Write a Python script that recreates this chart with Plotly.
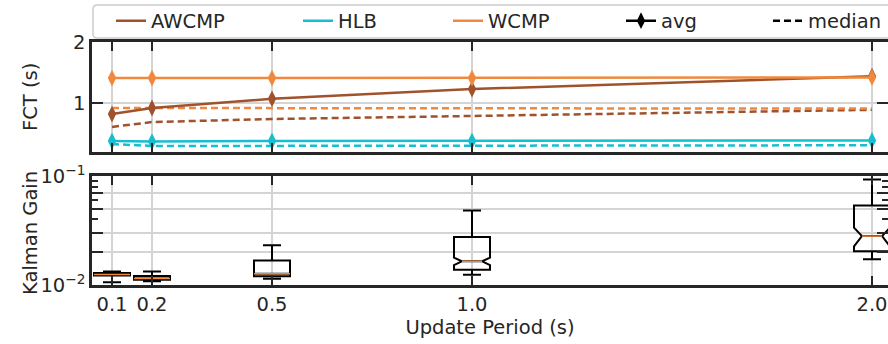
import plotly.graph_objects as go

# update period (s)
periods = [0.1, 0.2, 0.5, 1.0, 2.0]
period_labels = ["0.1", "0.2", "0.5", "1.0", "2.0"]

# FCT (s)
awcmp_avg = [0.82, 0.92, 1.07, 1.23, 1.44]
awcmp_median = [0.61, 0.69, 0.74, 0.79, 0.89]
hlb_avg = [0.38, 0.37, 0.38, 0.38, 0.39]
hlb_median = [0.33, 0.30, 0.30, 0.30, 0.31]
wcmp_avg = [1.41, 1.41, 1.41, 1.41, 1.42]
wcmp_median = [0.92, 0.92, 0.92, 0.92, 0.91]

# Kalman gain distributions (box stats)
kg_low = [0.0106, 0.0108, 0.0114, 0.0124, 0.0172]
kg_q1 = [0.0122, 0.0112, 0.0120, 0.0138, 0.0204]
kg_med = [0.0125, 0.0115, 0.0127, 0.0165, 0.0281]
kg_q3 = [0.0129, 0.0121, 0.0168, 0.0275, 0.0537]
kg_high = [0.0133, 0.0133, 0.0232, 0.0482, 0.093]
kg_notch = [0, 0, 0, 0.0013, 0.0055]

C_AWCMP = "#a0522d"
C_HLB = "#17becf"
C_WCMP = "#f0893d"
INK = "#262626"
GRID = "#d4d4d4"
FONT = "DejaVu Sans"
FS = 19.5

# plot area in pixels: x 92..888, y 42..285
def px_x(p):
    return (p - 92) / 796

def px_y(p):
    return (285 - p) / 243

fig = go.Figure()

# top panel: FCT
series = [("AWCMP", C_AWCMP, awcmp_avg, awcmp_median),
          ("HLB", C_HLB, hlb_avg, hlb_median),
          ("WCMP", C_WCMP, wcmp_avg, wcmp_median)]
for name, col, avg, med in series:
    fig.add_trace(go.Scatter(x=periods, y=med, mode="lines", xaxis="x2", yaxis="y2",
                             line=dict(color=col, width=2.5, dash="7px,4px"),
                             showlegend=False, hoverinfo="skip"))
for name, col, avg, med in series:
    fig.add_trace(go.Scatter(x=periods, y=avg, mode="lines+markers", xaxis="x2", yaxis="y2",
                             line=dict(color=col, width=2.5),
                             marker=dict(symbol="diamond-tall", size=12, color=col),
                             showlegend=False))

# legend entries, one small legend each so they can sit where the reference has them
legend_names = ["legend", "legend2", "legend3", "legend4", "legend5"]
legend_text_x = [155, 342, 492, 665, 812]
for k, (name, col, avg, med) in enumerate(series):
    fig.add_trace(go.Scatter(x=[None], y=[None], mode="lines", name=name, legend=legend_names[k],
                             line=dict(color=col, width=2.5), xaxis="x2", yaxis="y2"))
fig.add_trace(go.Scatter(x=[None], y=[None], mode="lines+markers", name="avg", legend="legend4",
                         line=dict(color="black", width=2.5),
                         marker=dict(symbol="diamond-tall", size=12, color="black"),
                         xaxis="x2", yaxis="y2"))
fig.add_trace(go.Scatter(x=[None], y=[None], mode="lines", name="median", legend="legend5",
                         line=dict(color="black", width=2.5, dash="7px,4px"),
                         xaxis="x2", yaxis="y2"))

# bottom panel: Kalman gain boxes
box_w = 0.09
notch_w = 0.22
for i, p in enumerate(periods):
    notched = kg_notch[i] > 0
    kw = dict(notched=True, notchspan=[kg_notch[i]], notchwidth=notch_w) if notched else {}
    fig.add_trace(go.Box(x=[p], q1=[kg_q1[i]], median=[kg_med[i]], q3=[kg_q3[i]],
                         lowerfence=[kg_low[i]], upperfence=[kg_high[i]],
                         width=box_w, whiskerwidth=0.5, fillcolor="rgba(255,255,255,0)",
                         line=dict(color="black", width=2), showlegend=False, **kw))

# orange median bars drawn over the boxes
mx, my = [], []
for i, p in enumerate(periods):
    half = box_w / 2 * ((1 - 2 * notch_w) if kg_notch[i] > 0 else 1)
    mx += [p - half, p + half, None]
    my += [kg_med[i], kg_med[i], None]
fig.add_trace(go.Scatter(x=mx, y=my, mode="lines", line=dict(color="#f0893d", width=1.5),
                         showlegend=False, hoverinfo="skip"))

axis_common = dict(showline=True, linecolor=INK, linewidth=2.5, mirror="ticks",
                   ticks="inside", tickcolor=INK, tickwidth=2, ticklen=9,
                   showgrid=True, gridcolor=GRID, gridwidth=1.5, zeroline=False,
                   automargin=False, tickfont=dict(family=FONT, size=FS, color=INK))

top_dom = [px_y(152), 1]
bot_dom = [0, px_y(176)]

layout_legends = {}
for k, ln in enumerate(legend_names):
    layout_legends[ln] = dict(x=px_x(legend_text_x[k] - 44), y=px_y(21),
                              xanchor="left", yanchor="middle",
                              bgcolor="rgba(0,0,0,0)", borderwidth=0,
                              font=dict(family=FONT, size=FS, color=INK))

# rounded legend frame (pixel corners -> paper units)
fx0, fx1, fy0, fy1 = px_x(93), px_x(895), px_y(38), px_y(5)
rx, ry = 4 / 796, 4 / 243
frame_path = (f"M {fx0 + rx},{fy1} L {fx1 - rx},{fy1} Q {fx1},{fy1} {fx1},{fy1 - ry} "
              f"L {fx1},{fy0 + ry} Q {fx1},{fy0} {fx1 - rx},{fy0} "
              f"L {fx0 + rx},{fy0} Q {fx0},{fy0} {fx0},{fy0 + ry} "
              f"L {fx0},{fy1 - ry} Q {fx0},{fy1} {fx0 + rx},{fy1} Z")

fig.update_layout(
    width=888, height=344,
    margin=dict(l=92, r=0, t=42, b=59, autoexpand=False),
    paper_bgcolor="white", plot_bgcolor="white",
    font=dict(family=FONT, size=FS, color=INK),
    xaxis=dict(axis_common, range=[0.05, 2.04], tickvals=periods, ticktext=period_labels,
               anchor="y", domain=[0, 1],
               title=dict(text="Update Period (s)", standoff=4,
                          font=dict(family=FONT, size=FS, color=INK))),
    yaxis=dict(axis_common, type="log", range=[-2, -1], domain=bot_dom, anchor="x",
               tickvals=[0.01, 0.02, 0.03, 0.05, 0.07, 0.1],
               ticktext=["10<sup>−2</sup>", "", "", "", "", "10<sup>−1</sup>"],
               ticklen=11,
               minor=dict(tickvals=[0.04, 0.06, 0.08, 0.09], ticks="inside", ticklen=6,
                          tickcolor=INK, tickwidth=2, showgrid=False)),
    xaxis2=dict(axis_common, range=[0.05, 2.04], tickvals=periods, showticklabels=False,
                anchor="y2", matches="x"),
    yaxis2=dict(axis_common, range=[0.2, 2.0], tickvals=[1, 2], ticktext=["1", "2"],
                domain=top_dom, anchor="x2", ticklen=11),
    shapes=[dict(type="path", xref="paper", yref="paper", path=frame_path,
                 line=dict(color="#cccccc", width=1.5), fillcolor="white", layer="below")],
    annotations=[
        dict(text="FCT (s)", textangle=-90, xref="paper", yref="paper",
             x=px_x(30), y=px_y(97), xanchor="center", yanchor="middle", showarrow=False,
             font=dict(family=FONT, size=FS, color=INK)),
        dict(text="Kalman Gain", textangle=-90, xref="paper", yref="paper",
             x=px_x(30), y=px_y(233), xanchor="center", yanchor="middle", showarrow=False,
             font=dict(family=FONT, size=FS, color=INK)),
    ],
    **layout_legends,
)

fig.write_html("out.html", config={"displayModeBar": False},
               post_script="document.body.style.margin='0';")
